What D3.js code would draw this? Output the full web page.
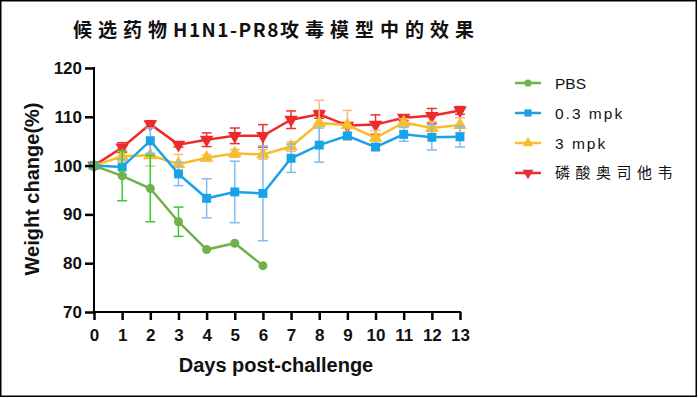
<!DOCTYPE html>
<html><head><meta charset="utf-8">
<script src="https://cdn.jsdelivr.net/npm/d3@7"></script>
<style>body{margin:0;background:#fff}svg{display:block}</style>
</head><body>
<script>
const days = [0,1,2,3,4,5,6,7,8,9,10,11,12,13];
const seriesNames = ["PBS","0.3 mpk","3 mpk","磷酸奥司他韦"];
const pbs      = [100, 97.9, 95.3, 88.5, 82.8, 84.1, 79.5];
const pbsErr   = [0, 5.1, 6.8, 3.0, 0, 0, 0];
const mpk03    = [100, 99.7, 105.1, 98.3, 93.3, 94.6, 94.3, 101.5, 104.2, 106.1, 103.8, 106.4, 105.8, 105.9];
const mpk03Err = [0.5, 1.5, 2.6, 2.4, 4.0, 6.3, 9.7, 2.9, 3.5, 0.5, 0.6, 1.4, 2.6, 2.1];
const mpk3     = [100, 101.9, 102.1, 100.3, 101.6, 102.5, 102.3, 103.9, 108.7, 108.3, 105.7, 108.8, 107.7, 108.3];
const mpk3Err  = [0.5, 1.0, 2.2, 2.0, 0.6, 0.8, 1.0, 1.0, 4.7, 3.0, 1.5, 0.8, 1.3, 1.5];
const osel     = [100, 103.7, 108.5, 104.3, 105.3, 106.1, 106.1, 109.4, 110.5, 108.2, 108.4, 109.8, 110.2, 111.3];
const oselErr  = [0.5, 1.0, 0.7, 0.5, 1.4, 1.6, 2.3, 1.8, 0.8, 0.5, 2.0, 0.6, 1.5, 0.8];
const yTicks = [70,80,90,100,110,120];
const titleParts = ["候选药物","H1N1-PR8","攻毒模型中的效果"];

const W=698,H=398;
const svg=d3.select("body").append("svg").attr("width",W).attr("height",H);
svg.append("rect").attr("x",0.75).attr("y",0.75).attr("width",W-2.5).attr("height",H-2.5)
  .attr("fill","#fff").attr("stroke","#000").attr("stroke-width",1.5);

const x=d3.scaleLinear().domain([0,13]).range([94,460]);
const y=d3.scaleLinear().domain([70,120]).range([312,68]);

const title=svg.append("text").attr("x",73).attr("y",37)
  .attr("font-family","'Noto Sans CJK SC'").attr("font-weight","bold").attr("font-size",19)
  .attr("fill","#111");
titleParts.forEach((p,i)=>{
  title.append("tspan").attr("letter-spacing",i===1?1.5:6).text(p);
});

const series=[
  {name:seriesNames[3], v:osel, e:oselErr, c:"#ee2b2b", ec:"#ee3030", sym:"down"},
  {name:seriesNames[2], v:mpk3, e:mpk3Err, c:"#f6be2c", ec:"#f9b98a", sym:"up"},
  {name:seriesNames[1], v:mpk03, e:mpk03Err, c:"#18a3e8", ec:"#86b9f3", sym:"sq"},
  {name:seriesNames[0], v:pbs, e:pbsErr, c:"#72b04a", ec:"#33cc33", sym:"circ"}
];
function sym(t){
  if(t==="circ") return d3.symbol(d3.symbolCircle,64)();
  if(t==="sq") return d3.symbol(d3.symbolSquare,80)();
  return d3.symbol(d3.symbolTriangle,80)();
}
const plot=svg.append("g");
series.forEach(s=>{
  const g=plot.append("g");
  s.v.forEach((v,i)=>{
    if(!s.e[i]) return;
    const xx=x(days[i]), y1=y(v+s.e[i]), y2=y(v-s.e[i]);
    g.append("line").attr("x1",xx).attr("x2",xx).attr("y1",y1).attr("y2",y2).attr("stroke",s.ec).attr("stroke-width",1.5);
    [y1,y2].forEach(yy=>g.append("line").attr("x1",xx-5).attr("x2",xx+5).attr("y1",yy).attr("y2",yy).attr("stroke",s.ec).attr("stroke-width",1.5));
  });
  g.append("path").datum(s.v).attr("fill","none").attr("stroke",s.c).attr("stroke-width",2.5)
    .attr("d",d3.line().x((d,i)=>x(days[i])).y(d=>y(d)));
  g.selectAll("path.m").data(s.v).join("path").attr("class","m")
    .attr("d",sym(s.sym)).attr("fill",s.c)
    .attr("transform",(d,i)=>`translate(${x(days[i])},${y(d)})${s.sym==="down"?" rotate(180)":""}`);
});

const fontAx="'Liberation Sans',Arial,sans-serif";
const ya=svg.append("g").attr("transform","translate(94,0)")
  .call(d3.axisLeft(y).tickValues(yTicks).tickSize(9).tickPadding(3));
const xa=svg.append("g").attr("transform","translate(0,312)")
  .call(d3.axisBottom(x).tickValues(days).tickSize(8).tickPadding(9));
[ya,xa].forEach(a=>{
  a.select(".domain").attr("stroke","#000").attr("stroke-width",2);
  a.selectAll(".tick line").attr("stroke","#000").attr("stroke-width",2.5);
  a.selectAll(".tick text").attr("font-family",fontAx).attr("font-weight","bold").attr("font-size",17).attr("fill","#111");
});
ya.select(".domain").attr("d","M0,67V312");
xa.select(".domain").attr("d","M94,0H461");

svg.append("text").attr("x",276).attr("y",372).attr("text-anchor","middle")
  .attr("font-family",fontAx).attr("font-weight","bold").attr("font-size",20).attr("fill","#111")
  .text("Days post-challenge");
svg.append("text").attr("transform","translate(39,189) rotate(-90)").attr("text-anchor","middle")
  .attr("font-family",fontAx).attr("font-weight","bold").attr("font-size",20).attr("fill","#111")
  .text("Weight change(%)");

const legOrder=[3,2,1,0];
const leg=svg.append("g");
legOrder.forEach((si,k)=>{
  const s=series[si], yy=83+k*30;
  leg.append("line").attr("x1",515).attr("x2",541).attr("y1",yy).attr("y2",yy).attr("stroke",s.c).attr("stroke-width",2.5);
  leg.append("path").attr("d",sym(s.sym)).attr("fill",s.c)
    .attr("transform",`translate(528,${yy})${s.sym==="down"?" rotate(180)":""} scale(0.8)`);
  const t=leg.append("text").attr("x",555).attr("y",yy).attr("dy","0.36em").attr("fill","#111").text(s.name);
  if(k===3) t.attr("font-family","'Noto Sans CJK SC'").attr("font-size",15).attr("letter-spacing",5.5);
  else t.attr("font-family",fontAx).attr("font-size",15.5).attr("letter-spacing",k===0?0:2);
});
</script>
</body></html>
